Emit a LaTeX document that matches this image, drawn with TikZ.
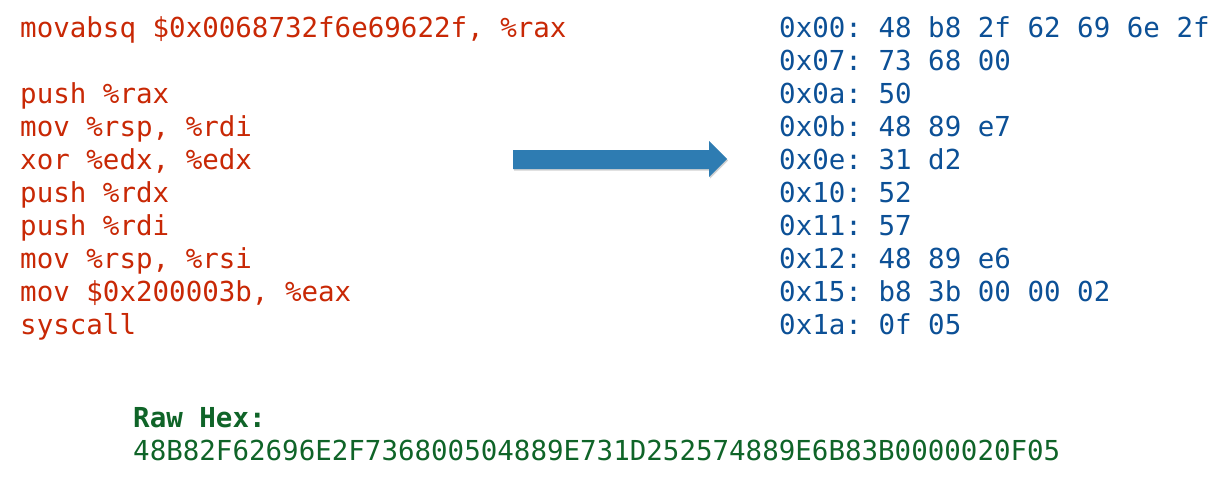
\documentclass[tikz,border=0pt]{standalone}
\usepackage{fontspec}
\newfontfamily\codefont{DejaVu Sans Mono}
\definecolor{asmred}{RGB}{200,40,5}
\definecolor{hexblue}{RGB}{12,80,150}
\definecolor{rawgreen}{RGB}{15,100,40}
\definecolor{arrowblue}{RGB}{46,124,178}
\tikzset{
  codeline/.style={anchor=base west,inner sep=0pt,font={\codefont\frenchspacing\fontsize{27.5}{33}\selectfont}},
  asm/.style={codeline,text=asmred},
  hexline/.style={codeline,text=hexblue},
  rawhex/.style={codeline,text=rawgreen}
}
\begin{document}
\begin{tikzpicture}[x=1pt,y=-1pt]
            \useasboundingbox (0,0) rectangle (1227,482);
            % assembly
            \node[asm] (asm1) at (20,37) {movabsq \$0x0068732f6e69622f, \%rax};
            \foreach \t [count=\i from 3] in {{push \%rax},{mov \%rsp, \%rdi},{xor \%edx, \%edx},{push \%rdx},{push \%rdi},{mov \%rsp, \%rsi},{mov \$0x200003b, \%eax},{syscall}}
                \node[asm] (asm\i) at (20,4+33*\i) {\t};
            % bytes
            \foreach \t [count=\i] in {{0x00: 48 b8 2f 62 69 6e 2f},{0x07: 73 68 00},{0x0a: 50},{0x0b: 48 89 e7},{0x0e: 31 d2},{0x10: 52},{0x11: 57},{0x12: 48 89 e6},{0x15: b8 3b 00 00 02},{0x1a: 0f 05}}
                \node[hexline] (hex\i) at (779,4+33*\i) {\t};
            % arrow
            \fill[black,opacity=0.18,shift={(1,1.5)}] (513,150) -- (709,150) -- (709,141) -- (727,159) -- (709,177) -- (709,169) -- (513,169) -- cycle;
            \fill[arrowblue] (513,150) -- (709,150) -- (709,141) -- (727,159) -- (709,177) -- (709,169) -- (513,169) -- cycle;
            % raw hex
            \node[rawhex,font={\codefont\frenchspacing\bfseries\fontsize{27.5}{33}\selectfont}] (rawlabel) at (133,427) {Raw Hex:};
            \node[rawhex] (rawbytes) at (133,460) {48B82F62696E2F736800504889E731D252574889E6B83B0000020F05};
        \end{tikzpicture}
\end{document}
